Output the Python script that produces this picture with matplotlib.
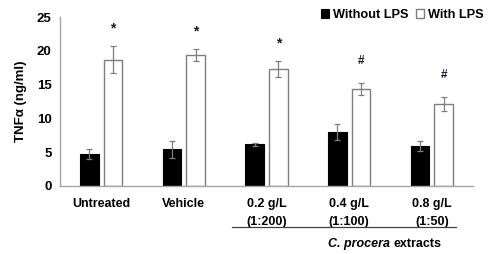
import matplotlib
matplotlib.use("Agg")
import matplotlib.pyplot as plt
import numpy as np

categories = ["Untreated", "Vehicle", "0.2 g/L\n(1:200)", "0.4 g/L\n(1:100)", "0.8 g/L\n(1:50)"]
without_lps = [4.7, 5.4, 6.15, 8.0, 5.95]
without_err = [0.75, 1.2, 0.2, 1.2, 0.75]
with_lps = [18.7, 19.4, 17.3, 14.3, 12.1]
with_err = [2.0, 0.9, 1.2, 0.9, 1.0]
markers = ["*", "*", "*", "#", "#"]
series_names = ["Without LPS", "With LPS"]

plt.rcParams['font.family'] = ['Liberation Sans', 'DejaVu Sans']
plt.rcParams['font.weight'] = 'bold'

fig = plt.figure(figsize=(4.95, 2.54), dpi=100)
ax = fig.add_axes([0.121, 0.268, 0.835, 0.665])

x = np.arange(len(categories))
w = 0.225
off = 0.143
ax.bar(x - off, without_lps, w, color='black', edgecolor='black', linewidth=0.8,
       yerr=without_err, error_kw=dict(ecolor='#7f7f7f', elinewidth=0.9, capsize=2.5, capthick=0.9),
       label=series_names[0], zorder=2)
ax.bar(x + off, with_lps, w, color='white', edgecolor='#7f7f7f', linewidth=1.0,
       yerr=with_err, error_kw=dict(ecolor='#7f7f7f', elinewidth=0.9, capsize=2.5, capthick=0.9),
       label=series_names[1], zorder=2)

for i, m in enumerate(markers):
    top = with_lps[i] + with_err[i]
    if m == "*":
        ax.text(x[i] + off, top + 2.6, m, ha='center', va='center', fontsize=10, color='#1a1a2e')
    else:
        ax.text(x[i] + off, top + 3.3, m, ha='center', va='center', fontsize=8.5, color='#1a1a2e')

ax.set_xlim(-0.5, len(categories) - 0.5)
ax.set_ylim(0, 25)
ax.set_yticks([0, 5, 10, 15, 20, 25])
ax.tick_params(axis='both', length=0, labelsize=9.5, pad=6)
ax.tick_params(axis='x', pad=9)
ax.set_xticks(x)
ax.set_xticklabels(categories, fontsize=9, linespacing=1.6, va='top')
for lab in ax.get_yticklabels():
    lab.set_fontweight('bold')
for lab in ax.get_xticklabels():
    lab.set_fontweight('bold')
for s in ['top', 'right']:
    ax.spines[s].set_visible(False)
for s in ['left', 'bottom']:
    ax.spines[s].set_color('#a6a6a6')
    ax.spines[s].set_linewidth(1.0)

ax.set_ylabel("TNFα (ng/ml)", fontsize=9.5, fontweight='bold', labelpad=7)

leg = fig.legend(loc='upper right', bbox_to_anchor=(0.995, 1.0), ncol=2, frameon=False,
                 fontsize=9.2, handlelength=0.65, handleheight=0.65, handletextpad=0.3,
                 columnspacing=0.6, borderaxespad=0.3)
for t in leg.get_texts():
    t.set_fontweight('bold')

# underline beneath extract groups
fig.add_artist(plt.Line2D([232 / 495, 456 / 495], [1 - 227 / 254, 1 - 227 / 254],
                          color='#404040', linewidth=0.9))
fig.text(390 / 495, 1 - 244 / 254, "C. procera", ha='right', va='center',
         fontsize=9, fontweight='bold', fontstyle='italic')
fig.text(393 / 495, 1 - 244 / 254, "extracts", ha='left', va='center',
         fontsize=9, fontweight='bold')

fig.savefig("out.png", dpi=100)
